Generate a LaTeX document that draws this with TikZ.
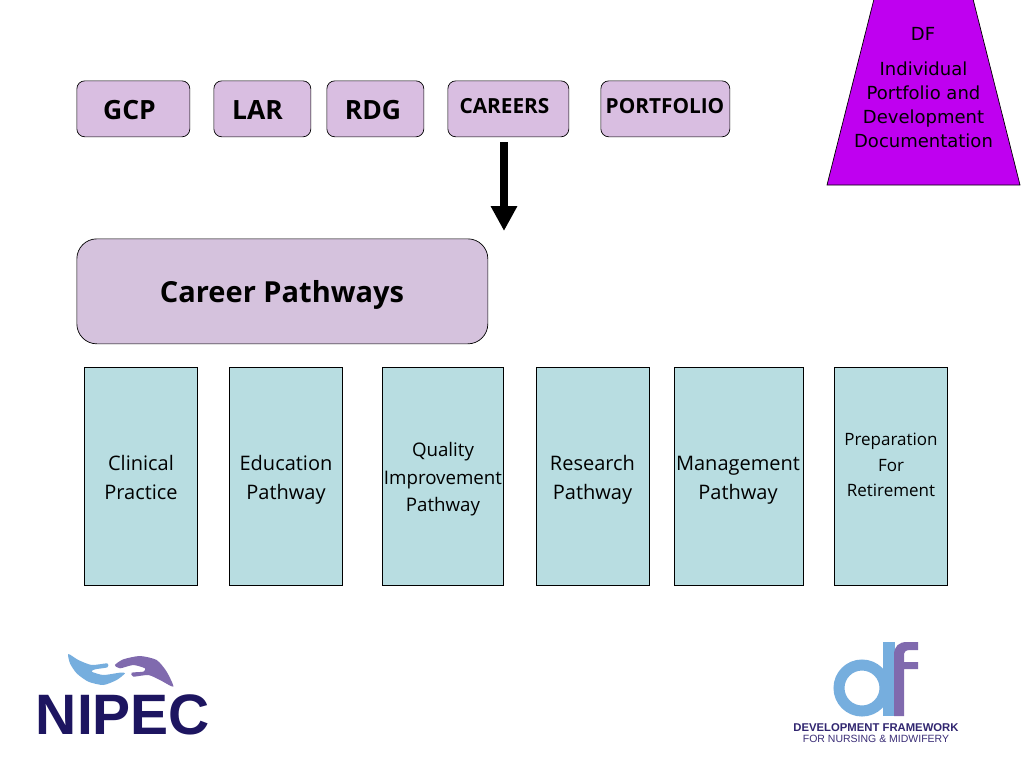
\documentclass[tikz,border=0pt]{standalone}
\usepackage{fontspec}
\setmainfont{Open Sans}
\newfontfamily\tahoma{Open Sans}
\newfontfamily\comic{DejaVu Sans}
\newfontfamily\logofont{Liberation Sans}
\usetikzlibrary{arrows.meta,shapes.geometric}
\definecolor{lilac}{HTML}{D9BEE1}
\definecolor{lilactwo}{HTML}{D5C2DD}
\definecolor{paleteal}{HTML}{B8DDE1}
\definecolor{violet}{HTML}{BF00F0}
\definecolor{logoblue}{HTML}{76AEDE}
\definecolor{logopurple}{HTML}{806AAE}
\definecolor{logonavy}{HTML}{1D1560}
\newcommand{\fs}[2]{\fontsize{#1}{#2}\selectfont}
\tikzset{
  x=1pt,y=-1pt,
  topbox/.style={draw=black,line width=.7pt,fill=lilac,rounded corners=8pt,inner sep=0pt,anchor=north west},
  pathbox/.style={draw=black,line width=.7pt,fill=paleteal,inner sep=0pt,anchor=north west},
  toplabel/.style={font=\bfseries\fs{26.5}{26.5},inner sep=0pt},
  smalltop/.style={font=\bfseries\fs{20.8}{20.8},inner sep=0pt},
  pathlabel/.style={font=\tahoma\fs{20}{29},align=center,inner sep=0pt},
  dflabel/.style={font=\comic\fs{18}{24},align=center,inner sep=0pt},
}
\begin{document}
\begin{tikzpicture}
\useasboundingbox (0,0) rectangle (1024,768);
\fill[white] (0,0) rectangle (1024,768);
% top row
\node[topbox,minimum width=113pt,minimum height=56pt] (gcp) at (76.5,80.5) {};
\node[toplabel] (gcpt) at (129.5,110) {GCP};
\node[topbox,minimum width=97pt,minimum height=56pt] (lar) at (213.5,80.5) {};
\node[toplabel] (lart) at (257.5,110) {LAR};
\node[topbox,minimum width=97pt,minimum height=56pt] (rdg) at (326.5,80.5) {};
\node[toplabel] (rdgt) at (373,110) {RDG};
\node[topbox,minimum width=121pt,minimum height=56pt] (careers) at (447.5,80.5) {};
\node[smalltop] (careerst) at (504.5,106.5) {CAREERS};
\node[topbox,minimum width=129pt,minimum height=56pt] (portfolio) at (600.5,80.5) {};
\node[smalltop] (portfoliot) at (665,106.5) {PORTFOLIO};
% main box
\node[topbox,fill=lilactwo,rounded corners=20pt,minimum width=411pt,minimum height=105pt] (pathways) at (76.5,238.5) {};
\node[font=\bfseries\fs{29}{29},inner sep=0pt] (pathwayst) at (282,295) {Career Pathways};
% arrow
\coordinate (arrowtip) at (504,231);
\draw[line width=8pt,-{Triangle[length=25pt,width=25pt]}] ([yshift=-5pt]careers.south -| arrowtip) -- (arrowtip);
% pathway boxes
\node[pathbox,minimum width=113pt,minimum height=218pt] (clinical) at (84,367) {};
\node[pathlabel] (clinicalt) at (141,477.5) {Clinical\\Practice};
\node[pathbox,minimum width=113pt,minimum height=218pt] (education) at (229,367) {};
\node[pathlabel] (educationt) at (286,479.5) {Education\\Pathway};
\node[pathbox,minimum width=121pt,minimum height=218pt] (quality) at (382,367) {};
\node[pathlabel,font=\tahoma\fs{18.7}{27.5}] (qualityt) at (443,479.5) {Quality\\Improvement\\Pathway};
\node[pathbox,minimum width=113pt,minimum height=218pt] (research) at (535.5,367) {};
\node[pathlabel] (researcht) at (592.5,479.5) {Research\\Pathway};
\node[pathbox,minimum width=129pt,minimum height=218pt] (management) at (673.5,367) {};
\node[pathlabel] (managementt) at (738,480.5) {Management\\Pathway};
\node[pathbox,minimum width=113pt,minimum height=218pt] (retirement) at (834,367) {};
\node[pathlabel,font=\tahoma\fs{17}{25.5}] (retirementt) at (891,465) {Preparation\\For\\Retirement};
% DF trapezium
\draw[fill=violet,draw=black,line width=.7pt] (874,-1) -- (973,-1) -- (1020,185) -- (827,185) -- cycle;
\node[dflabel] (dft) at (923,34) {DF};
\node[dflabel] (dfb) at (923.5,105) {Individual\\Portfolio and\\Development\\Documentation};
% NIPEC logo
\node[font=\logofont\bfseries\fs{57}{57},text=logonavy,inner sep=0pt] (nipec) at (123,715) {NIPEC};
\begin{scope}[shift={(20,630)},x=.3333pt,y=-.3333pt]
\fill[logoblue] plot[smooth cycle,tension=.4] coordinates {(145,72)(175,90)(215,105)(262,100)(262,112)(225,118)(215,125)(250,135)(300,128)(315,130)(290,150)(250,165)(205,155)(170,130)(150,100)};
\fill[logopurple] plot[smooth cycle,tension=.4] coordinates {(285,105)(310,88)(360,78)(410,90)(440,125)(460,170)(420,150)(385,135)(340,140)(335,128)(370,125)(375,115)(340,105)(300,115)};
\end{scope}
% DF logo
\draw[logoblue,line width=11pt] (862,688) circle (23pt);
\fill[logoblue] (883,642) rectangle (895,716);
\fill[logopurple] (894,716) -- (894,655) .. controls (894,646) and (899,642) .. (907,642) -- (918,642) -- (918,650) -- (910,650) .. controls (905,650) and (904,652) .. (904,656) -- (904,662) -- (918,662) -- (918,669) -- (904,669) -- (904,716) -- cycle;
\node[font=\logofont\bfseries\fs{11.3}{12},text=logonavy!80!logopurple,inner sep=0pt] (dflogoa) at (876,728) {DEVELOPMENT FRAMEWORK};
\node[font=\logofont\fs{10.5}{11},text=logonavy!70!logopurple,inner sep=0pt] (dflogob) at (876,738.5) {FOR NURSING \& MIDWIFERY};
\end{tikzpicture}
\end{document}
